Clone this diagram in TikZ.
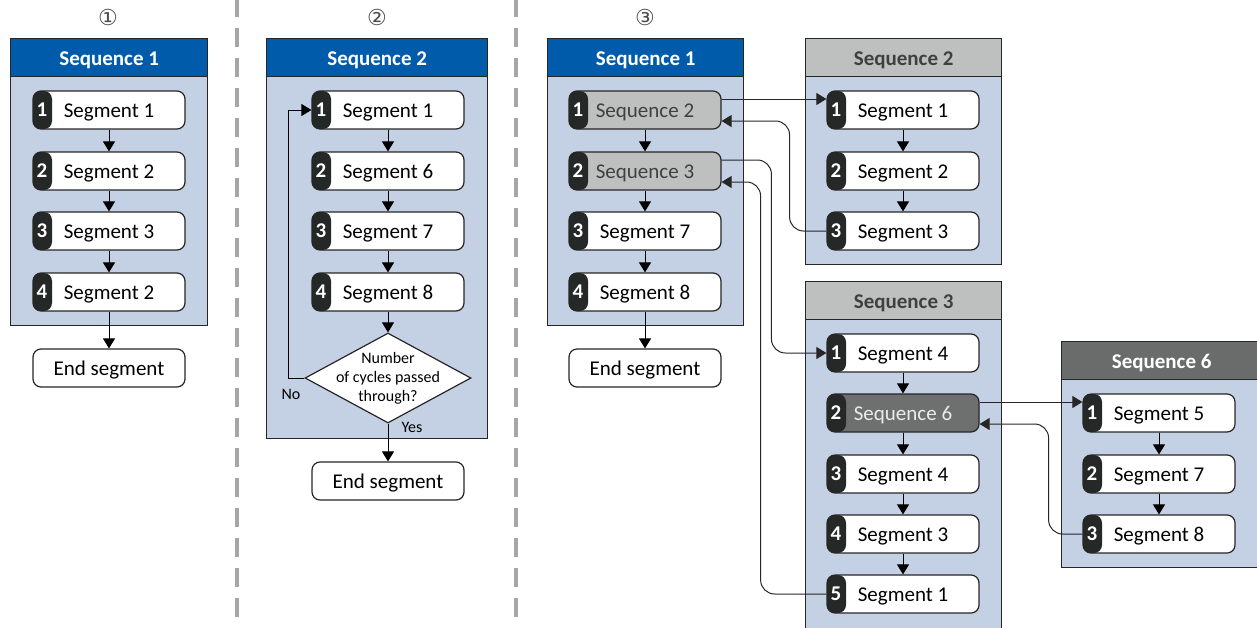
\documentclass[tikz,border=0pt]{standalone}
\usepackage{fontspec}
\setmainfont{Carlito}
\newfontfamily\circfont{DejaVu Sans}
\usepackage{xcolor}
\usepackage{tikz}
\usetikzlibrary{arrows.meta,positioning,calc,shapes.geometric}
\definecolor{headblue}{RGB}{0,91,170}
\definecolor{bodyblue}{RGB}{196,208,227}
\definecolor{headgray}{RGB}{190,191,191}
\definecolor{headdark}{RGB}{106,108,108}
\definecolor{tabdark}{RGB}{36,40,39}
\definecolor{itemdark}{RGB}{110,112,112}
\definecolor{sepgray}{RGB}{166,166,166}

\begin{document}
\begin{tikzpicture}[x=1pt, y=-1pt,
    every node/.style={font=\fontsize{21}{25}\selectfont},
    seqbody/.style={draw=black!85, fill=bodyblue, line width=1.3pt, anchor=north west, inner sep=0, minimum width=197pt},
    seqhead/.style={draw=black!85, line width=1.3pt, anchor=north west, inner sep=0, minimum width=197pt, minimum height=38pt, text height=15pt, text depth=0pt, font=\fontsize{21}{25}\selectfont\bfseries},
    tabnum/.style={label distance=-15pt, inner sep=0, text=white, font=\fontsize{21}{25}\selectfont\bfseries},
    seg/.style={draw=black!85, line width=1.2pt, rounded corners=8pt, fill=white, minimum width=152pt, minimum height=38pt, inner sep=0, text height=15pt, text depth=0pt,
        path picture={\fill[tabdark] (path picture bounding box.south west) rectangle ([xshift=19pt]path picture bounding box.north west);},
        label={[tabnum]left:#1}},
    endseg/.style={draw=black!85, line width=1.2pt, rounded corners=8pt, fill=white, minimum width=152pt, minimum height=38pt, inner sep=0, text height=15pt, text depth=0pt},
    decision/.style={diamond, draw=black!85, line width=1.2pt, fill=white, minimum width=166pt, minimum height=90pt, inner sep=0},
    small/.style={font=\fontsize{16}{19}\selectfont},
    circ/.style={font=\circfont\fontsize{22}{24}\selectfont, text=black!70},
    arrow/.style={-{Triangle[length=10pt,width=12pt]}, line width=1pt},
    link/.style={arrow, rounded corners=14pt, draw=black!85},
    sepline/.style={sepgray, line width=3.5pt, dash pattern=on 19pt off 11pt}
]
\useasboundingbox (0,0) rectangle (1257,627);

% separators
\draw[sepline] (237,-2) -- (237,630);
\draw[sepline] (516,-2) -- (516,630);

% panel 1
\node[circ] (n1) at (108,17) {①};
\node[seqbody, minimum height=287pt] (b1) at (10,38) {};
\node[seqhead, fill=headblue, text=white] (h1) at (10,38) {Sequence 1};
\node[seg=1] (a1) at (109,110) {Segment 1};
\node[seg=2] (a2) at (109,171) {Segment 2};
\node[seg=3] (a3) at (109,231) {Segment 3};
\node[seg=4] (a4) at (109,292) {Segment 2};
\node[endseg] (e1) at (109,368) {End segment};

\draw[arrow] (a1) -- (a2);
\draw[arrow] (a2) -- (a3);
\draw[arrow] (a3) -- (a4);
\draw[arrow] (a4) -- (e1);

% panel 2
\node[circ] (n2) at (377,17) {②};
\node[seqbody, minimum width=221pt, minimum height=400pt] (b2) at (266,38) {};
\node[seqhead, minimum width=221pt, fill=headblue, text=white] (h2) at (266,38) {Sequence 2};
\node[seg=1] (s1) at (388,110) {Segment 1};
\node[seg=2] (s2) at (388,171) {Segment 6};
\node[seg=3] (s3) at (388,231) {Segment 7};
\node[seg=4] (s4) at (388,292) {Segment 8};
\node[decision] (dec) at (388,378) {};
\node[small, align=center] (dectext) at (dec) {Number\\of cycles passed\\through?};
\node[small] (no) at (291,394) {No};
\node[small] (yes) at (412,427) {Yes};
\node[endseg] (e2) at (388,481) {End segment};

\draw[arrow] (s1) -- (s2);
\draw[arrow] (s2) -- (s3);
\draw[arrow] (s3) -- (s4);
\draw[arrow] (s4) -- (dec);
\draw[arrow] (dec) -- (e2);
\draw[arrow] (dec.west) -| ([xshift=-23pt]s1.west) -- (s1.west);

% panel 3: main sequence
\node[circ] (n3) at (645,17) {③};
\node[seqbody, minimum width=196pt, minimum height=287pt] (b3) at (547,38) {};
\node[seqhead, minimum width=196pt, fill=headblue, text=white] (h3) at (547,38) {Sequence 1};
\node[seg=1, fill=headgray, text=black!75] (q1) at (645,110) {Sequence 2};
\node[seg=2, fill=headgray, text=black!75] (q2) at (645,171) {Sequence 3};
\node[seg=3] (q3) at (645,231) {Segment 7};
\node[seg=4] (q4) at (645,292) {Segment 8};
\node[endseg] (e3) at (645,368) {End segment};

\draw[arrow] (q1) -- (q2);
\draw[arrow] (q2) -- (q3);
\draw[arrow] (q3) -- (q4);
\draw[arrow] (q4) -- (e3);

% sub sequence 2
\node[seqbody, minimum width=196pt, minimum height=226pt] (b4) at (805,38) {};
\node[seqhead, minimum width=196pt, fill=headgray, text=black!75] (h4) at (805,38) {Sequence 2};
\node[seg=1] (r1) at (903,110) {Segment 1};
\node[seg=2] (r2) at (903,171) {Segment 2};
\node[seg=3] (r3) at (903,231) {Segment 3};

\draw[arrow] (r1) -- (r2);
\draw[arrow] (r2) -- (r3);

% sub sequence 3
\node[seqbody, minimum width=196pt, minimum height=360pt] (b5) at (805,281) {};
\node[seqhead, minimum width=196pt, fill=headgray, text=black!75] (h5) at (805,281) {Sequence 3};
\node[seg=1] (t1) at (903,353) {Segment 4};
\node[seg=2, fill=itemdark, text=white!92!black] (t2) at (903,413) {Sequence 6};
\node[seg=3] (t3) at (903,474) {Segment 4};
\node[seg=4] (t4) at (903,534) {Segment 3};
\node[seg=5] (t5) at (903,594) {Segment 1};

\draw[arrow] (t1) -- (t2);
\draw[arrow] (t2) -- (t3);
\draw[arrow] (t3) -- (t4);
\draw[arrow] (t4) -- (t5);

% sub sequence 6
\node[seqbody, minimum width=200pt, minimum height=226pt] (b6) at (1061,341) {};
\node[seqhead, minimum width=200pt, fill=headdark, text=white] (h6) at (1061,341) {Sequence 6};
\node[seg=1] (u1) at (1159,413) {Segment 5};
\node[seg=2] (u2) at (1159,474) {Segment 7};
\node[seg=3] (u3) at (1159,534) {Segment 8};

\draw[arrow] (u1) -- (u2);
\draw[arrow] (u2) -- (u3);

% calls and returns
\draw[link] ([yshift=11pt]q1.east) -- ([yshift=11pt]r1.west);
\draw[link] (r3.west) -| ([xshift=68pt,yshift=-11pt]q1.east) -- ([yshift=-11pt]q1.east);
\draw[link] ([yshift=11pt]q2.east) -| ([xshift=-55pt]t1.west) -- (t1.west);
\draw[link] (t5.west) -| ([xshift=39pt,yshift=-11pt]q2.east) -- ([yshift=-11pt]q2.east);
\draw[link] ([yshift=11pt]t2.east) -- ([yshift=11pt]u1.west);
\draw[link] (u3.west) -| ([xshift=69pt,yshift=-11pt]t2.east) -- ([yshift=-11pt]t2.east);
\end{tikzpicture}
\end{document}
